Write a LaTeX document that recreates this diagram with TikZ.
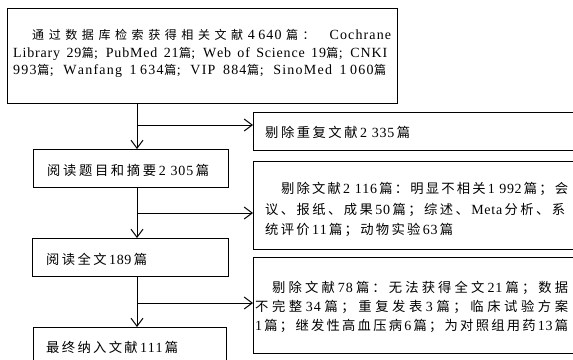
\documentclass[tikz,border=0pt]{standalone}
\usepackage{fontspec}
\setmainfont{Liberation Serif}
\newfontfamily\latn{Liberation Serif}
\newfontfamily\cjkA[Scale=0.95]{Noto Sans CJK SC}
\newfontfamily\cjkT[Scale=0.86]{Noto Sans CJK SC}
\newcommand\cjk{\cjkA}
\usetikzlibrary{arrows.meta}

% simple CJK / Latin font switching and distributed spacing
\newXeTeXintercharclass\CJKcls
\newXeTeXintercharclass\LATcls
\newcount\mycnt
\newdimen\cjkst
\newdimen\latst
\newcommand\setcls[3]{\mycnt=#1\relax
  \loop\XeTeXcharclass\mycnt=#3\relax
  \ifnum\mycnt<#2\relax\advance\mycnt by 1\relax\repeat}
\setcls{"4E00}{"9FFF}{\CJKcls}
\setcls{"3000}{"303F}{\CJKcls}
\setcls{"FF00}{"FFEF}{\CJKcls}
\setcls{`A}{`Z}{\LATcls}
\setcls{`a}{`z}{\LATcls}
\setcls{`0}{`9}{\LATcls}
\XeTeXcharclass`;=\LATcls
\XeTeXinterchartoks\CJKcls\CJKcls={\hskip0pt plus\cjkst\relax}
\XeTeXinterchartoks\CJKcls\LATcls={\latn\hskip0pt plus\cjkst\relax}
\XeTeXinterchartoks\LATcls\CJKcls={\hskip0pt plus\cjkst\relax\cjk}
\XeTeXinterchartoks\LATcls\LATcls={\hskip0pt plus\latst\relax}
\XeTeXinterchartoks 4095 \CJKcls={\cjk}
\XeTeXinterchartoks\CJKcls 4095 ={\latn}
\XeTeXinterchartoks 4095 \LATcls={\latn}
\newcommand\fonta{\XeTeXinterchartokenstate=1\relax\let\cjk\cjkT\fontsize{14}{16}\selectfont
  \cjkst=0.15pt\relax\latst=0.3pt\relax\spaceskip=0.25em plus 1pt\relax}
\newcommand\fontb{\XeTeXinterchartokenstate=1\relax\fontsize{14}{16}\selectfont
  \cjkst=1pt\relax\latst=0.3pt\relax\spaceskip=0.25em plus 0.5pt\relax}
\newcommand\jline[2]{\makebox[#1pt][s]{#2}}
\newcommand\ths{\kern3.5pt\relax}

\begin{document}
\begin{tikzpicture}[x=1pt,y=-1pt,
  box/.style={draw=black, line width=1pt, inner sep=0pt, anchor=north west},
  arr/.style={draw=black, line width=1pt, -{Straight Barb[length=8pt,width=12pt,line width=1pt]}},
  txt/.style={inner sep=0pt, anchor=base west},
  fa/.style={font=\fonta},
  fb/.style={font=\fontb}]
\useasboundingbox (0,0) rectangle (573,359);
\clip (0,0) rectangle (573,359);
\fill[white] (0,0) rectangle (573,359);

% boxes
\node[box, minimum width=390pt, minimum height=95pt] (top) at (7,8) {};
\node[box, minimum width=340pt, minimum height=38pt] (r1) at (253,112) {};
\node[box, minimum width=195pt, minimum height=38pt] (b2) at (33,149) {};
\node[box, minimum width=340pt, minimum height=88pt] (r2) at (253,161) {};
\node[box, minimum width=196pt, minimum height=38pt] (b3) at (32,238) {};
\node[box, minimum width=340pt, minimum height=96pt] (r3) at (253,257) {};
\node[box, minimum width=193pt, minimum height=45pt] (b4) at (33,327) {};

% texts
\node[txt,fa] (t1) at (32,39) {\jline{359}{\latst=0.1pt\relax\cjkst=0.4pt\relax 通过数据库检索获得相关文献4\ths 640篇： Cochrane}};
\node[txt,fa] (t2) at (13,57) {\jline{374}{Library 29篇; PubMed 21篇; Web of Science 19篇; CNKI}};
\node[txt,fa] (t3) at (13,74.5) {\jline{373}{993篇; Wanfang 1\ths 634篇; VIP 884篇; SinoMed 1\ths 060篇}};

\node[txt,fb] (r1t) at (265,137) {\jline{145}{剔除重复文献2 335篇}};
\node[txt,fb] (b2t) at (47,175) {\jline{162}{阅读题目和摘要2 305篇}};
\node[txt,fb] (b3t) at (46,264) {\jline{101}{阅读全文189篇}};
\node[txt,fb] (b4t) at (46,352.5) {\jline{132}{最终纳入文献111篇}};

\node[txt,fb] (r2a) at (281,193.5) {\jline{287}{剔除文献2 116篇：明显不相关1 992篇；会}};
\node[txt,fb] (r2b) at (265,214.5) {\jline{300}{议、报纸、成果50篇；综述、Meta分析、系}};
\node[txt,fb] (r2c) at (265,234.5) {\jline{188}{统评价11篇；动物实验63篇}};

\node[txt,fb] (r3a) at (272,292.5) {\jline{296}{剔除文献78篇：无法获得全文21篇；数据}};
\node[txt,fb] (r3b) at (255,311.5) {\jline{313}{不完整34篇；重复发表3篇；临床试验方案}};
\node[txt,fb] (r3c) at (255,330) {\jline{313}{1篇；继发性高血压病6篇；为对照组用药13篇}};

% connectors
\coordinate (j1) at (137,125);
\coordinate (j2) at (137,213);
\coordinate (j3) at (137,303);
\draw[arr] (j1 |- top.south) -- (j1 |- b2.north);
\draw[arr] (j1) -- (j1 -| r1.west);
\draw[arr] (j2 |- b2.south) -- (j2 |- b3.north);
\draw[arr] (j2) -- (j2 -| r2.west);
\draw[arr] (j3 |- b3.south) -- (j3 |- b4.north);
\draw[arr] (j3) -- (j3 -| r3.west);
\end{tikzpicture}
\end{document}
